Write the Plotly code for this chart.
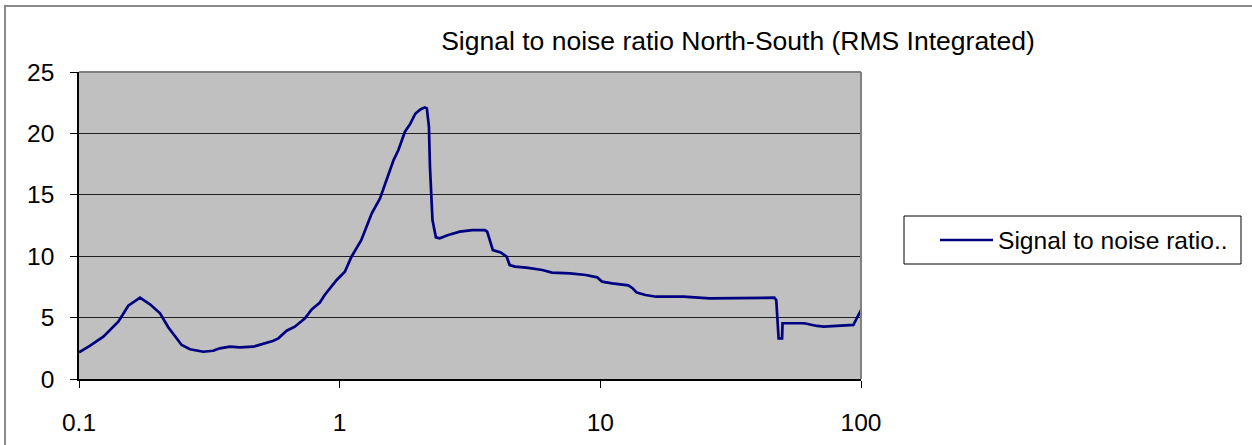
import plotly.graph_objects as go

# Frequency (log axis) and signal-to-noise ratio values
freq = [0.1, 0.110, 0.124, 0.1415, 0.1546, 0.1714, 0.1872, 0.2046, 0.220, 0.2477,
        0.2664, 0.300, 0.327, 0.347, 0.379, 0.414, 0.466, 0.510, 0.557, 0.582,
        0.626, 0.673, 0.736, 0.781, 0.838, 0.876, 0.974, 1.047, 1.11, 1.21,
        1.328, 1.428, 1.515, 1.61, 1.68, 1.78, 1.865, 1.95, 2.04, 2.12,
        2.16, 2.20, 2.22, 2.24, 2.27, 2.34, 2.42, 2.61, 2.89, 3.22,
        3.61, 3.68, 3.78, 3.87, 4.15, 4.37, 4.49, 4.71, 5.2, 5.99,
        6.52, 7.65, 8.8, 9.72, 10.15, 11.1, 12.8, 13.3, 13.8, 14.9,
        16.4, 20.9, 26.2, 37.5, 46.5, 47.3, 47.7, 48.3, 49.8, 50.0,
        55.0, 60.5, 67.9, 72.0, 93.5, 100.0]
snr = [2.17, 2.7, 3.45, 4.67, 5.97, 6.62, 6.08, 5.35, 4.21, 2.77,
       2.42, 2.22, 2.3, 2.5, 2.63, 2.58, 2.63, 2.85, 3.12, 3.31,
       3.93, 4.26, 4.94, 5.67, 6.21, 6.84, 8.06, 8.74, 9.96, 11.3,
       13.49, 14.71, 16.2, 17.83, 18.65, 20.14, 20.77, 21.6, 21.95, 22.12,
       22.04, 20.55, 17.3, 14.85, 12.95, 11.54, 11.46, 11.73, 12.0, 12.13,
       12.13, 12.0, 11.18, 10.5, 10.3, 9.96, 9.28, 9.15, 9.07, 8.88,
       8.66, 8.6, 8.47, 8.28, 7.93, 7.79, 7.63, 7.39, 7.03, 6.84,
       6.7, 6.7, 6.57, 6.57, 6.62, 6.43, 4.8, 3.31, 3.31, 4.54,
       4.54, 4.54, 4.32, 4.26, 4.4, 5.62]

x_ticks = [0.1, 1, 10, 100]
x_tick_labels = ["0.1", "1", "10", "100"]
y_ticks = [0, 5, 10, 15, 20, 25]

series_name = "Signal to noise ratio.."
title_text = "Signal to noise ratio North-South (RMS Integrated)"

W, H = 1252, 445
L, R, T, B = 79, 861, 72, 379
PW, PH = R - L, B - T


def fx(px):
    return (px - L) / PW


def fy(py):
    return (B - py) / PH


FONT = "Liberation Sans, Arial, sans-serif"
LINE_COLOR = "#000080"

fig = go.Figure()
fig.add_trace(go.Scatter(
    x=freq, y=snr, mode="lines", name=series_name,
    line=dict(color=LINE_COLOR, width=2.7), showlegend=False,
))

shapes = [
    # chart area border
    dict(type="rect", xref="paper", yref="paper",
         x0=fx(5), x1=fx(1270), y0=fy(460), y1=fy(6),
         line=dict(color="#8a8a8a", width=2), layer="above"),
    # plot area top and right edges
    dict(type="line", xref="paper", yref="paper", x0=0, x1=1, y0=1, y1=1,
         line=dict(color="#808080", width=2), layer="above"),
    dict(type="line", xref="paper", yref="paper", x0=1, x1=1, y0=0, y1=1,
         line=dict(color="#808080", width=2), layer="above"),
    # legend box and sample line
    dict(type="rect", xref="paper", yref="paper",
         x0=fx(904), x1=fx(1241), y0=fy(264), y1=fy(216),
         line=dict(color="#000000", width=1), fillcolor="white", layer="above"),
    dict(type="line", xref="paper", yref="paper",
         x0=fx(940), x1=fx(993), y0=fy(240), y1=fy(240),
         line=dict(color=LINE_COLOR, width=2.7), layer="above"),
]

annotations = [
    dict(text=series_name, xref="paper", yref="paper", x=fx(996), y=fy(240),
         xanchor="left", yanchor="middle", showarrow=False,
         font=dict(family=FONT, size=24.6, color="black")),
]

fig.update_layout(
    width=W, height=H,
    margin=dict(l=L, r=W - R, t=T, b=H - B, pad=0, autoexpand=False),
    paper_bgcolor="white",
    plot_bgcolor="#C0C0C0",
    font=dict(family=FONT, size=24, color="black"),
    title=dict(text=title_text, xref="container", yref="container",
               x=738 / W, y=1 - 41 / H, xanchor="center", yanchor="middle",
               font=dict(family=FONT, size=26.5, color="black")),
    shapes=shapes,
    annotations=annotations,
    showlegend=False,
)

fig.update_xaxes(
    type="log", range=[-1, 2], automargin=False,
    tickvals=x_ticks, ticktext=x_tick_labels,
    showgrid=False, zeroline=False,
    showline=True, linecolor="black", linewidth=1.5,
    ticks="outside", ticklen=7, tickcolor="black", tickwidth=1,
    ticklabelstandoff=14,
    tickfont=dict(size=24.5),
)
fig.update_yaxes(
    range=[0, 25], automargin=False, tickvals=y_ticks,
    showgrid=True, gridcolor="#202020", gridwidth=1,
    zeroline=False,
    showline=True, linecolor="black", linewidth=1.5,
    ticks="outside", ticklen=7, tickcolor="black", tickwidth=1,
    ticklabelstandoff=11,
    tickfont=dict(size=24.5),
)

fig.write_html("out.html")
